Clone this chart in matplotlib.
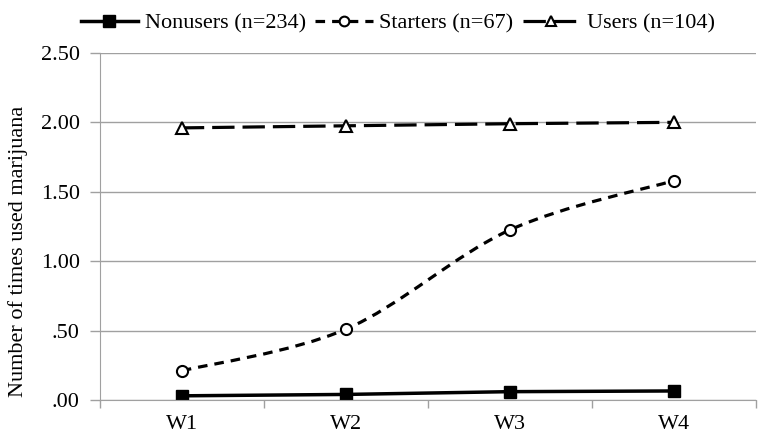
import numpy as np
import matplotlib
matplotlib.use("Agg")
import matplotlib.pyplot as plt
from matplotlib.path import Path
from matplotlib.patches import PathPatch
from matplotlib.lines import Line2D

plt.rcParams['font.family'] = ['Liberation Serif', 'DejaVu Serif']

waves = ['W1', 'W2', 'W3', 'W4']
nonusers = [0.03, 0.04, 0.06, 0.065]
starters = [0.21, 0.51, 1.225, 1.58]
users = [1.96, 1.975, 1.99, 2.00]
labels = ['Nonusers (n=234)', 'Starters (n=67)', 'Users (n=104)']
yticks = [0, 0.5, 1.0, 1.5, 2.0, 2.5]


def smooth_path(xs, ys):
    # Excel-like smoothed line: cubic bezier through the points
    xs = np.asarray(xs, float)
    ys = np.asarray(ys, float)
    n = len(xs)
    verts = [(xs[0], ys[0])]
    codes = [Path.MOVETO]
    for i in range(n - 1):
        p0 = (xs[max(i - 1, 0)], ys[max(i - 1, 0)])
        p1 = (xs[i], ys[i])
        p2 = (xs[i + 1], ys[i + 1])
        p3 = (xs[min(i + 2, n - 1)], ys[min(i + 2, n - 1)])
        c1 = (p1[0] + (p2[0] - p0[0]) / 6, p1[1] + (p2[1] - p0[1]) / 6)
        c2 = (p2[0] - (p3[0] - p1[0]) / 6, p2[1] - (p3[1] - p1[1]) / 6)
        verts += [c1, c2, p2]
        codes += [Path.CURVE4] * 3
    return Path(verts, codes)


fig = plt.figure(figsize=(7.62, 4.41), dpi=100)
ax = fig.add_axes([0.131, 0.093, 0.861, 0.787])
x = np.arange(1, len(waves) + 1)

ax.plot(x, nonusers, color='black', lw=2.5, marker='s', ms=8.5, mfc='black', mec='black')

ax.add_patch(PathPatch(smooth_path(x, starters), fill=False, ec='black', lw=2.3,
                       linestyle=(0, (3, 2.2))))
ax.plot(x, starters, ls='none', marker='o', ms=8, mfc='white', mec='black', mew=1.5)

ax.plot(x, users, color='black', lw=2.3, linestyle=(0, (7, 2.5)),
        marker='^', ms=8, mfc='white', mec='black', mew=1.5)

ax.set_xlim(0.5, len(waves) + 0.5)
ax.set_ylim(0, 2.5)
ax.set_yticks(yticks)
ax.set_yticklabels([('%.2f' % v).lstrip('0') if v < 1 else '%.2f' % v for v in yticks])
ax.set_xticks(x)
ax.set_xticklabels(waves)
ax.set_xticks(np.arange(0.5, len(waves) + 1, 1), minor=True)
ax.tick_params(axis='x', which='major', length=0, pad=11, labelsize=16)
ax.tick_params(axis='x', which='minor', length=6, color='#a0a0a0', width=1)
ax.tick_params(axis='y', length=7, color='#a0a0a0', width=1, pad=7.5, labelsize=16)
ax.grid(axis='y', color='#a0a0a0', lw=1)
ax.set_axisbelow(True)
for s in ['top', 'right']:
    ax.spines[s].set_visible(False)
ax.spines['bottom'].set_color('#a0a0a0')
ax.spines['left'].set_color('#a0a0a0')
ax.set_ylabel('Number of times used marijuana', fontsize=16, labelpad=9)
ax.yaxis.label.set_y(0.427)

handles = [
    Line2D([], [], color='black', lw=2.5, marker='s', ms=8.5),
    Line2D([], [], color='black', lw=2.3, linestyle=(0, (3, 2.2)), marker='o', ms=7,
           mfc='white', mew=1.5),
    Line2D([], [], color='black', lw=2.3, linestyle=(0, (7, 2.5)), marker='^', ms=7,
           mfc='white', mew=1.5),
]
fig.legend(handles, labels, loc='upper center', bbox_to_anchor=(0.522, 1.015), ncol=3,
           frameon=False, fontsize=16, handlelength=2.6, columnspacing=0.4, handletextpad=0.3)

fig.savefig('out.png', dpi=100)
